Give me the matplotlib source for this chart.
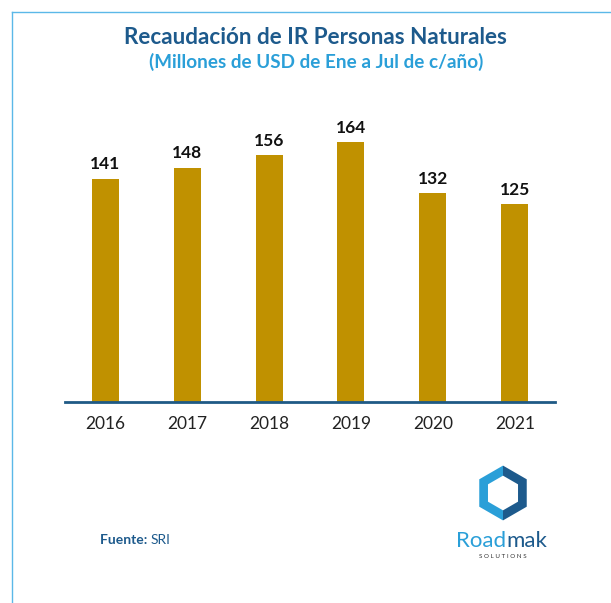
"""
Recaudacion de IR Personas Naturales, Ene-Jul de cada año
"""

import numpy as np
from matplotlib import pyplot as plt
from matplotlib.patches import Polygon

# data
years  = ['2016', '2017', '2018', '2019', '2020', '2021']
values = [141, 148, 156, 164, 132, 125]

# colours
bar_color   = '#C09100'
dark_blue   = '#1D5A8C'
light_blue  = '#2A9FD8'
frame_color = '#5BB8E8'

plt.rcParams['font.family'] = ['Lato', 'DejaVu Sans']

W, H   = 611, 603
fig    = plt.figure(figsize=(W/100, H/100), dpi=100)

# main axes in pixel coords
x0, x1, y0, y1 = 65, 555, 402, 90
ax = fig.add_axes([x0/W, 1 - y0/H, (x1-x0)/W, (y0-y1)/H])
x  = np.arange(len(years))
ax.bar(x, values, width=0.33, color=bar_color)
for xi, v in zip(x, values):
    ax.text(xi, v + 4, str(v), ha='center', va='bottom', fontsize=12.5, fontweight='bold', color='#111111')
ax.set_xlim(-0.49, 5.49)
ax.set_ylim(0, 197)
ax.set_xticks(x)
ax.set_xticklabels(years, fontsize=12.5, color='#222222')
ax.tick_params(axis='x', length=0, pad=10)
ax.set_yticks([])
for s in ['top', 'right', 'left']:
    ax.spines[s].set_visible(False)
ax.spines['bottom'].set_color('#1F5A85')
ax.spines['bottom'].set_linewidth(2)

# titles
fig.text(315/W, 1 - 37/H, 'Recaudación de IR Personas Naturales', ha='center', va='center',
         fontsize=16.2, fontweight='bold', color=dark_blue)
fig.text(316/W, 1 - 62/H, '(Millones de USD de Ene a Jul de c/año)', ha='center', va='center',
         fontsize=13.6, fontweight='bold', color=light_blue)

# frame lines
fig.add_artist(plt.Line2D([12/W, 1], [1 - 12/H, 1 - 12/H], color=frame_color, lw=1))
fig.add_artist(plt.Line2D([12/W, 12/W], [1 - 12/H, 0], color=frame_color, lw=1))

# source
t = fig.text(100/W, 1 - 540/H, 'Fuente: ', ha='left', va='center', fontsize=10, fontweight='bold', color=dark_blue)
fig.canvas.draw()
bb = t.get_window_extent()
fig.text(bb.x1/W, 1 - 540/H, 'SRI', ha='left', va='center', fontsize=10, color=dark_blue)

# logo
lax = fig.add_axes([463/W, 1 - 521/H, 80/W, 56/H])
lax.set_xlim(-1.43, 1.43)
lax.set_ylim(-1.0, 1.0)
lax.set_aspect('equal')
lax.axis('off')
ang   = np.deg2rad(np.arange(90, 450, 60))
outer = np.c_[np.cos(ang), np.sin(ang)] * 0.98
inner = np.c_[np.cos(ang), np.sin(ang)] * 0.62
# two interlocking halves of a hexagonal ring
left_idx  = [0, 1, 2, 3]
right_idx = [3, 4, 5, 0]
lp = np.vstack([outer[left_idx], inner[left_idx][::-1]])
rp = np.vstack([outer[right_idx], inner[right_idx][::-1]])
lax.add_patch(Polygon(lp, closed=True, color=light_blue, lw=0))
lax.add_patch(Polygon(rp, closed=True, color=dark_blue, lw=0))

t1 = fig.text(456/W, 1 - 541/H, 'Road', ha='left', va='center', fontsize=16, color=light_blue)
fig.canvas.draw()
bb = t1.get_window_extent()
fig.text(bb.x1/W, 1 - 541/H, 'mak', ha='left', va='center', fontsize=16, color=dark_blue)
fig.text(503/W, 1 - 556/H, 'S O L U T I O N S', ha='center', va='center', fontsize=4.5, color='#333333')

plt.savefig('out.png', dpi=100)
